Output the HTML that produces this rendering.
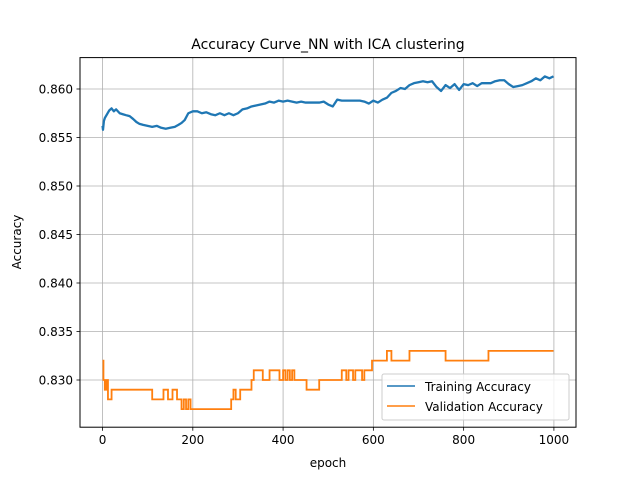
<!DOCTYPE html>
<html><head><meta charset="utf-8"><style>
body{margin:0;background:#fff;}
svg{display:block;font-family:"DejaVu Sans","Liberation Sans",sans-serif;}
</style></head><body>
<svg id="chart" width="640" height="480">
<rect width="640" height="480" fill="#fff"/>
<g id="grid"></g>
<g id="series"></g>
<rect x="80" y="57.6" width="496" height="369.6" fill="none" stroke="#000" stroke-width="1"/>
<g id="ticks"></g>
<text x="328" y="49" text-anchor="middle" font-size="14">Accuracy Curve_NN with ICA clustering</text>
<text x="328" y="467" text-anchor="middle" font-size="12">epoch</text>
<text x="21" y="242" text-anchor="middle" font-size="12" transform="rotate(-90 21 242)">Accuracy</text>
<g>
<rect x="382" y="374" width="187" height="46" rx="2" fill="#fff" fill-opacity="0.8" stroke="#ccc"/>
<line x1="387" y1="386" x2="415" y2="386" stroke="#1f77b4" stroke-width="1.5"/>
<text x="425" y="391" font-size="12">Training Accuracy</text>
<line x1="387" y1="406" x2="415" y2="406" stroke="#ff7f0e" stroke-width="1.5"/>
<text x="425" y="411" font-size="12">Validation Accuracy</text>
</g>
</svg>
<script>
const xTicks=[0,200,400,600,800,1000];
const yTicks=[0.830,0.835,0.840,0.845,0.850,0.855,0.860];
const yTickLabels=["0.830","0.835","0.840","0.845","0.850","0.855","0.860"];
const trainEpochs=[0,1,3,5,10,15,20,25,30,38,45,52,60,68,75,82,90,100,110,120,130,140,150,160,168,175,182,190,200,210,220,230,240,250,260,270,280,290,300,310,320,330,340,350,360,370,380,390,400,410,420,430,440,450,460,470,480,490,500,510,520,530,540,550,560,570,580,590,600,610,620,630,640,650,660,670,680,690,700,710,720,730,740,750,760,770,780,790,800,810,820,830,840,850,860,870,880,890,900,910,920,930,940,950,960,970,980,990,999];
const trainValues=[0.8562,0.8558,0.8567,0.8570,0.8574,0.8578,0.8580,0.8577,0.8579,0.8575,0.8574,0.8573,0.8572,0.8569,0.8566,0.8564,0.8563,0.8562,0.8561,0.8562,0.8560,0.8559,0.8560,0.8561,0.8563,0.8565,0.8568,0.8575,0.8577,0.8577,0.8575,0.8576,0.8574,0.8573,0.8575,0.8573,0.8575,0.8573,0.8575,0.8579,0.8580,0.8582,0.8583,0.8584,0.8585,0.8587,0.8586,0.8588,0.8587,0.8588,0.8587,0.8586,0.8587,0.8586,0.8586,0.8586,0.8586,0.8587,0.8584,0.8582,0.8589,0.8588,0.8588,0.8588,0.8588,0.8588,0.8587,0.8585,0.8588,0.8586,0.8589,0.8591,0.8596,0.8598,0.8601,0.8600,0.8604,0.8606,0.8607,0.8608,0.8607,0.8608,0.8602,0.8598,0.8604,0.8601,0.8605,0.8599,0.8605,0.8604,0.8606,0.8603,0.8606,0.8606,0.8606,0.8608,0.8609,0.8609,0.8605,0.8602,0.8603,0.8604,0.8606,0.8608,0.8611,0.8609,0.8613,0.8611,0.8613];
const valEpochs=[0,2,5,8,12,20,110,120,135,145,155,165,175,180,185,190,195,200,285,290,295,305,310,330,335,350,355,370,375,392,400,405,410,415,420,425,440,452,480,530,540,545,555,560,575,580,597,630,640,680,760,855,999];
const valValues=[0.832,0.830,0.829,0.830,0.828,0.829,0.828,0.828,0.829,0.828,0.829,0.828,0.827,0.828,0.827,0.828,0.827,0.827,0.828,0.829,0.828,0.829,0.829,0.830,0.831,0.831,0.830,0.831,0.831,0.830,0.831,0.830,0.831,0.830,0.831,0.830,0.830,0.829,0.830,0.831,0.830,0.831,0.830,0.831,0.830,0.831,0.832,0.833,0.832,0.833,0.832,0.833,0.833];
const X0=80,X1=576,Y0=427.2,Y1=57.6,xmin=-49.95,xmax=1048.95,ymin=0.825134,ymax=0.863237;
const sx=v=>X0+(v-xmin)/(xmax-xmin)*(X1-X0);
const sy=v=>Y0-(v-ymin)/(ymax-ymin)*(Y0-Y1);
const NS="http://www.w3.org/2000/svg";
const grid=document.getElementById('grid'),ticks=document.getElementById('ticks'),series=document.getElementById('series');
function mk(tag,attrs,parent){const e=document.createElementNS(NS,tag);for(const k in attrs)e.setAttribute(k,attrs[k]);parent.appendChild(e);return e;}
xTicks.forEach(t=>{const x=sx(t);
const g=mk('line',{x1:x,x2:x,y1:Y1,y2:Y0,stroke:'#b0b0b0','stroke-width':0.8},grid);


mk('line',{x1:x,x2:x,y1:Y0,y2:Y0+3.5,stroke:'#000','stroke-width':0.8},ticks);
const tx=mk('text',{x:x,y:Y0+17,'text-anchor':'middle','font-size':12},ticks);tx.textContent=String(t);

});
yTicks.forEach((t,i)=>{const y=sy(t);
const g=mk('line',{x1:X0,x2:X1,y1:y,y2:y,stroke:'#b0b0b0','stroke-width':0.8},grid);


mk('line',{x1:X0-3.5,x2:X0,y1:y,y2:y,stroke:'#000','stroke-width':0.8},ticks);
const tx=mk('text',{x:X0-7,y:y+4.5,'text-anchor':'end','font-size':12},ticks);tx.textContent=yTickLabels[i];

});
let d='';trainEpochs.forEach((e,i)=>{d+=(i?'L':'M')+sx(e).toFixed(2)+' '+sy(trainValues[i]).toFixed(2);});
const tl=mk('path',{d:d,fill:'none',stroke:'#1f77b4','stroke-width':2.3,'stroke-linejoin':'round'},series);


let d2='';valEpochs.forEach((e,i)=>{const x=sx(e).toFixed(2),y=sy(valValues[i]).toFixed(2);
if(i===0)d2+='M'+x+' '+y;else d2+='H'+x+'V'+y;});
const vl=mk('path',{d:d2,fill:'none',stroke:'#ff7f0e','stroke-width':1.8},series);


</script>
</body></html>
